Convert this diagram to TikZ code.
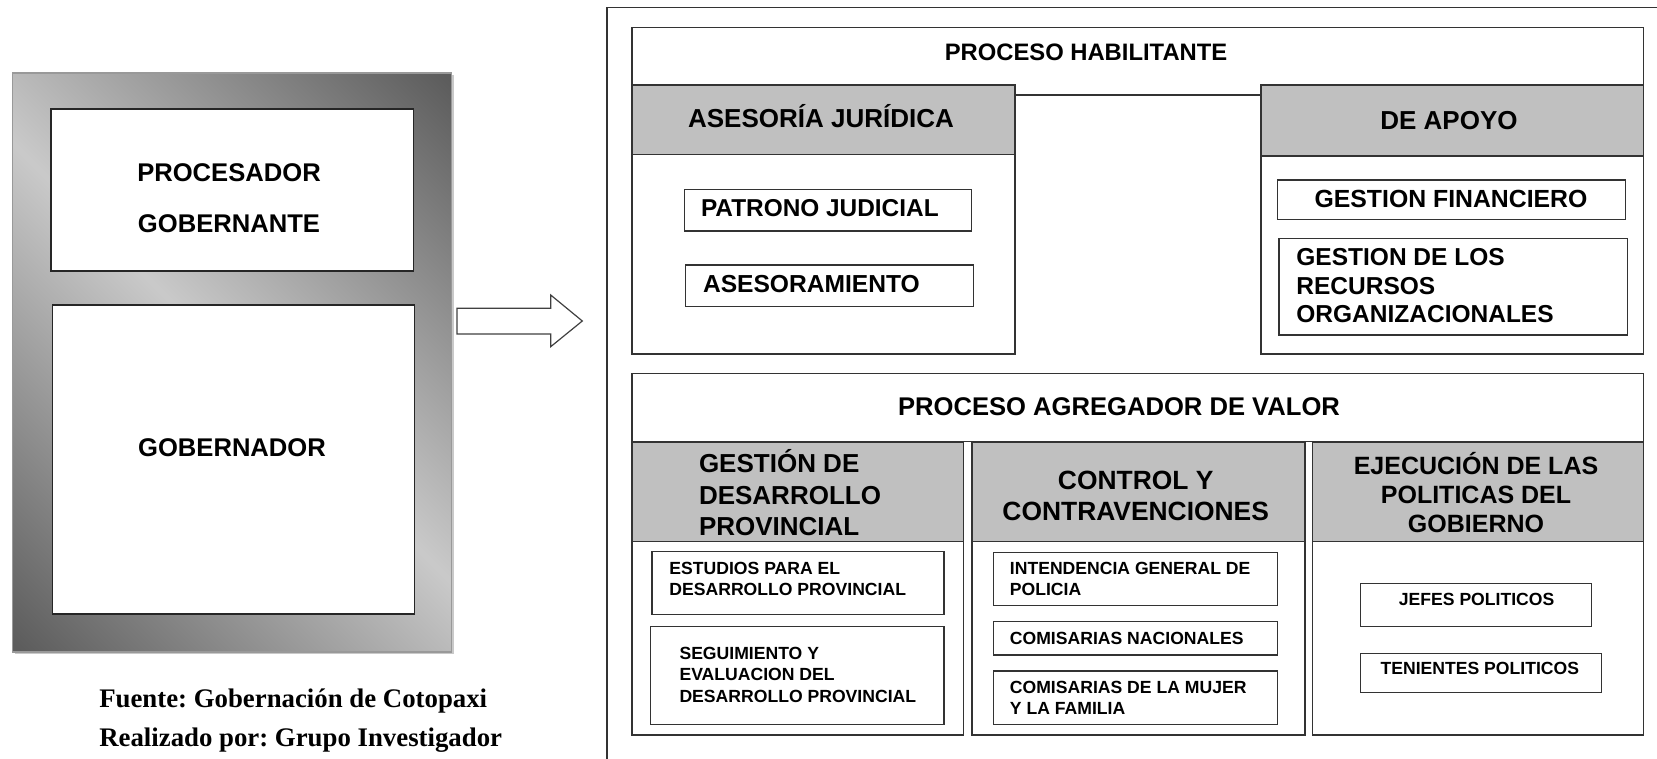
\documentclass[tikz,border=0pt]{standalone}
\usepackage{fontspec}
\setmainfont{Liberation Sans}
\newfontfamily\capfont{Liberation Serif}
\usetikzlibrary{shadows}
\frenchspacing
\definecolor{hdr}{HTML}{C0C0C0}
\definecolor{bl}{HTML}{333333}
\pgfdeclareverticalshading{reflgray}{100bp}{color(0bp)=(black!64); color(15bp)=(black!64);
  color(50bp)=(black!21); color(85bp)=(black!64); color(100bp)=(black!64)}
\tikzset{
  bline/.style={draw=bl, line width=0.75pt},
  wbox/.style={bline, fill=white, rectangle, inner sep=0pt, outer sep=0pt},
  gbox/.style={bline, fill=hdr, rectangle, inner sep=0pt, outer sep=0pt},
  lwbox/.style={draw=black!85, line width=0.75pt, fill=white, rectangle, inner sep=0pt, outer sep=0pt},
  graybox/.style={draw=black!40, line width=0.6pt, rectangle, inner sep=0pt, outer sep=0pt,
    shading=reflgray, shading angle=-45,
    drop shadow={shadow xshift=1.2pt, shadow yshift=-1.2pt, opacity=0.35, fill=black!60}},
  lab/.style 2 args={inner sep=0pt, outer sep=0pt, font=\fontsize{#1}{#2}\selectfont\bfseries},
  arrowline/.style={draw=black!75, line width=0.6pt, fill=white},
}
\newcommand\bx[6]{%
  \pgfmathsetmacro\bxw{(#5-#3)*0.5}%
  \pgfmathsetmacro\bxh{(#6-#4)*0.5}%
  \node[#2, minimum width=\bxw pt, minimum height=\bxh pt] (#1) at ({(#3+#5)/2},{(#4+#6)/2}) {};}
\begin{document}
\begin{tikzpicture}[x=0.5pt,y=-0.5pt]
\useasboundingbox (0,0) rectangle (1657,759);
\fill[white] (0,0) rectangle (1657,759);

% ---------- left panel ----------
\bx{gray}{graybox}{12.3}{73}{451.7}{652}
\bx{procbox}{lwbox}{51}{109}{413.5}{271}
\bx{gobbox}{lwbox}{52.5}{305}{414.5}{614}
\node[lab={12.8}{25.5}, align=center, anchor=south] (proc) at (229,232.5) {PROCESADOR\\GOBERNANTE};
\node[lab={12.8}{15}, anchor=base] (gob) at (232,456) {GOBERNADOR};

% block arrow
\draw[arrowline] (457,308.3) -- (550.7,308.3) -- (550.7,295) -- (582.3,321)
  -- (550.7,346.7) -- (550.7,334) -- (457,334) -- cycle;

% caption
\node[inner sep=0pt, outer sep=0pt, font=\capfont\bfseries\fontsize{13.4}{19.5}\selectfont,
  align=left, anchor=south west] (cap) at (99.3,752.9)
  {Fuente: Gobernación de Cotopaxi\\Realizado por: Grupo Investigador};

% ---------- right panel ----------
\draw[bline] (607,760) -- (607,7.3) -- (1658,7.3);

\bx{ph}{wbox}{632}{27.3}{1643.5}{95}
\node[lab={11.9}{14}, anchor=base] (phT) at (1086,60.2) {PROCESO HABILITANTE};

\bx{ajH}{gbox}{632}{85}{1015}{154.5}
\bx{ajB}{wbox}{632}{154.5}{1015}{354}
\bx{apH}{gbox}{1261}{85}{1643.5}{156}
\bx{apB}{wbox}{1261}{156}{1643.5}{354}
\node[lab={13}{15}, anchor=base] (ajT) at (821,127.6) {ASESORÍA JURÍDICA};
\node[lab={13}{15}, anchor=base] (apT) at (1449,129.3) {DE APOYO};

\bx{patr}{wbox}{684.3}{189.3}{971.4}{231}
\node[lab={12.2}{14}, anchor=base west] (patrT) at (701,217) {PATRONO JUDICIAL};
\bx{ases}{wbox}{685.6}{265}{973.5}{306.7}
\node[lab={12.3}{14}, anchor=base west] (asesT) at (703,292.1) {ASESORAMIENTO};

\bx{fin}{wbox}{1277.5}{180}{1625.3}{219.3}
\node[lab={12.4}{14}, anchor=base] (finT) at (1451,207.9) {GESTION FINANCIERO};
\bx{rec}{wbox}{1278.8}{238.3}{1627.4}{335}
\node[lab={12.25}{14.4}, align=left, anchor=south west] (recT) at (1296.4,323.1)
  {GESTION DE LOS\\RECURSOS\\ORGANIZACIONALES};

% proceso agregador de valor
\bx{pav}{wbox}{632}{373.3}{1643.5}{441.7}
\node[lab={12.8}{15}, anchor=base] (pavT) at (1119,415.9) {PROCESO AGREGADOR DE VALOR};

\bx{c1H}{gbox}{632}{442.5}{963.5}{541.7}
\bx{c2H}{gbox}{972}{442.5}{1305}{541.7}
\bx{c3H}{gbox}{1312.5}{442.5}{1643.5}{541.7}
\bx{c1B}{wbox}{632}{541.7}{963.5}{735}
\bx{c2B}{wbox}{972}{541.7}{1305}{735}
\bx{c3B}{wbox}{1312.5}{541.7}{1643.5}{735}

\node[lab={13}{15.85}, align=left, anchor=south west] (c1T) at (699,536)
  {GESTIÓN DE\\DESARROLLO\\PROVINCIAL};
\node[lab={13.2}{15.25}, align=center, anchor=south] (c2T) at (1135.7,520.5)
  {CONTROL Y\\CONTRAVENCIONES};
\node[lab={12.5}{14.35}, align=center, anchor=south] (c3T) at (1476,532.3)
  {EJECUCIÓN DE LAS\\POLITICAS DEL\\GOBIERNO};

% column 1 items
\bx{est}{wbox}{652}{551.7}{943.8}{614.3}
\node[lab={8.8}{10.35}, align=left, anchor=south west] (estT) at (669.4,595.3)
  {ESTUDIOS PARA EL\\DESARROLLO PROVINCIAL};
\bx{seg}{wbox}{650.6}{626.7}{943.8}{724.3}
\node[lab={8.8}{10.7}, align=left, anchor=south west] (segT) at (679.5,702.3)
  {SEGUIMIENTO Y\\EVALUACION DEL\\DESARROLLO PROVINCIAL};

% column 2 items
\bx{int}{wbox}{993.7}{552.3}{1277.5}{605.7}
\node[lab={8.8}{10.35}, align=left, anchor=south west] (intT) at (1009.9,595.3)
  {INTENDENCIA GENERAL DE\\POLICIA};
\bx{cna}{wbox}{993.7}{621.7}{1277.5}{655}
\node[lab={8.8}{10.35}, anchor=base west] (cnaT) at (1009.9,644.6) {COMISARIAS NACIONALES};
\bx{cmu}{wbox}{993.7}{671}{1277.5}{724.3}
\node[lab={8.8}{10.2}, align=left, anchor=south west] (cmuT) at (1009.9,714)
  {COMISARIAS DE LA MUJER\\Y LA FAMILIA};

% column 3 items
\bx{jef}{wbox}{1360.4}{583.3}{1591.6}{626.5}
\node[lab={8.8}{10.35}, anchor=base] (jefT) at (1476.6,605.6) {JEFES POLITICOS};
\bx{ten}{wbox}{1360.4}{653.3}{1601.7}{692.7}
\node[lab={8.8}{10.35}, anchor=base] (tenT) at (1479.8,674.6) {TENIENTES POLITICOS};
\end{tikzpicture}
\end{document}
